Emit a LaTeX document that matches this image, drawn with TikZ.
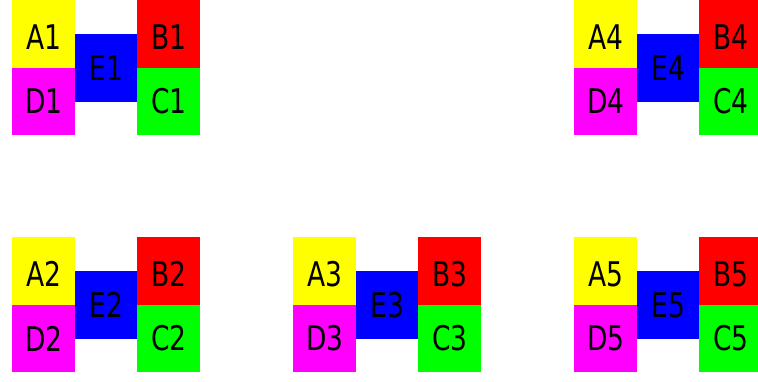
\documentclass[tikz,border=0pt]{standalone}
\usepackage{fontspec}
\setmainfont{DejaVu Sans}[FakeStretch=0.78]
\definecolor{cyel}{RGB}{255,255,0}
\definecolor{cmag}{RGB}{255,0,255}
\definecolor{cblu}{RGB}{0,0,255}
\definecolor{cred}{RGB}{255,0,0}
\definecolor{cgrn}{RGB}{0,255,0}
\tikzset{
  cell/.style={inner sep=0pt, minimum width=63pt, minimum height=67.5pt, anchor=north west,
    font=\fontsize{34}{34}\selectfont, text=black},
  topcell/.style={cell, text height=31pt, text depth=0pt},
  midcell/.style={cell, minimum width=62pt, minimum height=68pt, fill=cblu}
}
\begin{document}
\begin{tikzpicture}[x=1pt,y=-1pt]
\useasboundingbox (0,0) rectangle (758,381);
\foreach \g/\x/\y in {1/12/0, 2/12/237, 3/293/237, 4/574/0, 5/574/237}{
  \node[topcell, fill=cyel] (A\g) at (\x,\y) {A\g};
  \node[cell, fill=cmag] (D\g) at (\x,{\y+67.5}) {D\g};
  \node[topcell, fill=cred] (B\g) at ({\x+125},\y) {B\g};
  \node[cell, fill=cgrn] (C\g) at ({\x+125},{\y+67.5}) {C\g};
  \node[midcell] (E\g) at ({\x+63},{\y+34}) {E\g};
}
\end{tikzpicture}
\end{document}
